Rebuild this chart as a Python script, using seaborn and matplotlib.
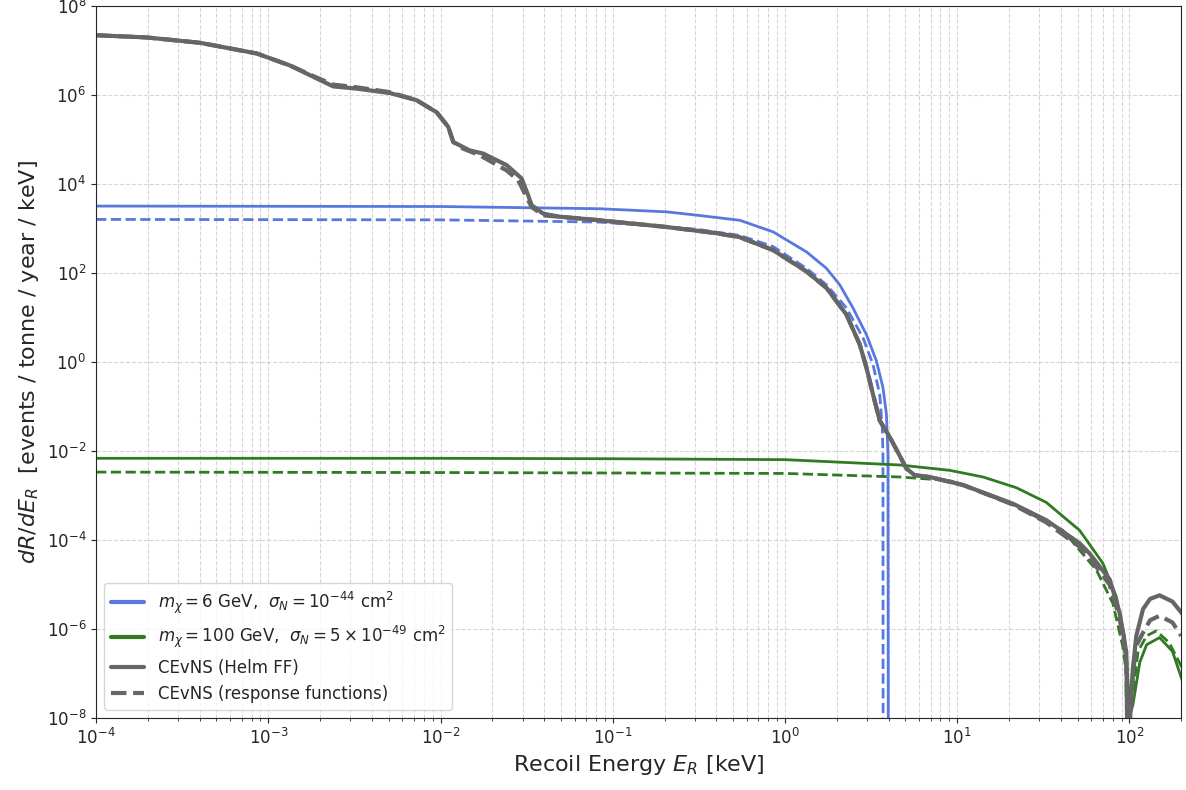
#!/usr/bin/env python3
import numpy as np
import pandas as pd
import seaborn as sns
import matplotlib.pyplot as plt
from matplotlib.ticker import NullLocator

sns.set_style("ticks")
plt.rcParams['font.family'] = ['DejaVu Sans']

# values, stored as log10(E/keV), log10(rate)
helm_logE = [-4.0, -3.706, -3.396, -3.067, -2.874, -2.72, -2.623, -2.487, -2.294, -2.139,
             -2.023, -1.955, -1.926, -1.83, -1.752, -1.616, -1.529, -1.491, -1.471, -1.404,
             -1.307, -1.075, -0.688, -0.398, -0.262, -0.069, 0.125, 0.241, 0.357, 0.434,
             0.473, 0.511, 0.55, 0.608, 0.666, 0.705, 0.753, 0.84, 1.034, 1.324, 1.517,
             1.711, 1.769, 1.885, 1.943, 1.982, 1.99, 2.02, 2.04, 2.079, 2.12, 2.175,
             2.25, 2.31]
helm_logR = [7.35, 7.30, 7.18, 6.94, 6.67, 6.38, 6.20, 6.15, 6.05, 5.89,
             5.62, 5.29, 4.95, 4.76, 4.69, 4.43, 4.13, 3.75, 3.53, 3.34,
             3.27, 3.19, 3.04, 2.90, 2.81, 2.52, 2.04, 1.67, 1.07, 0.40,
             -0.12, -0.72, -1.31, -1.68, -2.10, -2.39, -2.54, -2.58, -2.76, -3.18, -3.55,
             -4.07, -4.30, -4.88, -5.63, -6.52, -9.0, -6.89, -6.15, -5.55, -5.32, -5.24,
             -5.38, -5.67]

resp_logE = [-4.0, -3.706, -3.396, -3.067, -2.874, -2.72, -2.623, -2.487, -2.294, -2.139,
             -2.023, -1.955, -1.926, -1.868, -1.771, -1.616, -1.549, -1.50, -1.471, -1.404,
             -1.307, -1.075, -0.688, -0.398, -0.262, -0.069, 0.125, 0.241, 0.357, 0.434,
             0.473, 0.511, 0.55, 0.608, 0.666, 0.705, 0.753, 0.84, 1.034, 1.324, 1.517,
             1.711, 1.769, 1.885, 1.943, 1.982, 1.99, 2.02, 2.04, 2.079, 2.12, 2.175,
             2.25, 2.30]
resp_logR = [7.35, 7.30, 7.18, 6.94, 6.67, 6.40, 6.24, 6.18, 6.07, 5.89,
             5.62, 5.29, 4.95, 4.80, 4.65, 4.31, 4.09, 3.71, 3.49, 3.30,
             3.27, 3.19, 3.04, 2.90, 2.81, 2.52, 2.04, 1.67, 1.07, 0.40,
             -0.12, -0.72, -1.31, -1.68, -2.10, -2.39, -2.54, -2.58, -2.76, -3.20, -3.60,
             -4.15, -4.40, -5.00, -5.75, -6.65, -9.0, -7.0, -6.37, -6.08, -5.80, -5.70,
             -5.85, -6.15]

dm6_helm_logE = [-4.0, -2.0, -1.075, -0.688, -0.5, -0.262, -0.069, 0.125, 0.241, 0.318,
                 0.395, 0.473, 0.531, 0.569, 0.589, 0.598, 0.600]
dm6_helm_logR = [3.51, 3.50, 3.45, 3.38, 3.30, 3.19, 2.93, 2.48, 2.11, 1.74,
                 1.22, 0.62, 0.03, -0.57, -1.16, -2.06, -9.0]

dm6_resp_logE = [-4.0, -2.0, -1.075, -0.516, -0.262, -0.069, 0.125, 0.241, 0.357, 0.453,
                 0.511, 0.55, 0.565, 0.569, 0.570]
dm6_resp_logR = [3.21, 3.20, 3.15, 2.99, 2.85, 2.60, 2.11, 1.74, 1.22, 0.55,
                 -0.05, -0.72, -1.46, -2.06, -9.0]

dm100_helm_logE = [-4.0, -2.0, -1.0, 0.0, 0.666, 0.956, 1.15, 1.343, 1.517, 1.711,
                   1.846, 1.924, 1.972, 2.005, 2.02, 2.06, 2.10, 2.175, 2.25, 2.31]
dm100_helm_logR = [-2.16, -2.16, -2.17, -2.19, -2.31, -2.43, -2.58, -2.82, -3.15, -3.78,
                   -4.52, -5.27, -6.17, -7.9, -7.71, -6.75, -6.35, -6.19, -6.50, -7.19]

dm100_resp_logE = [-4.0, -2.0, -1.0, 0.0, 0.666, 0.956, 1.03, 1.324, 1.614, 1.808,
                   1.904, 1.962, 2.01, 2.05, 2.10, 2.156, 2.23, 2.31]
dm100_resp_logR = [-2.47, -2.48, -2.49, -2.50, -2.58, -2.66, -2.76, -3.21, -3.78, -4.67,
                   -5.42, -6.40, -7.8, -6.50, -6.15, -6.04, -6.30, -6.90]

blue, green, gray = "#5878e0", "#2f7a22", "#666666"
series = [
    (dm6_helm_logE, dm6_helm_logR, blue, "-", 2.0,
     r"$m_\chi = 6$ GeV,  $\sigma_N = 10^{-44}$ cm$^2$"),
    (dm6_resp_logE, dm6_resp_logR, blue, "--", 2.0, None),
    (dm100_helm_logE, dm100_helm_logR, green, "-", 2.0,
     r"$m_\chi = 100$ GeV,  $\sigma_N = 5\times10^{-49}$ cm$^2$"),
    (dm100_resp_logE, dm100_resp_logR, green, "--", 2.0, None),
    (helm_logE, helm_logR, gray, "-", 3.0, "CEvNS (Helm FF)"),
    (resp_logE, resp_logR, gray, "--", 3.0, "CEvNS (response functions)"),
]

fig, ax = plt.subplots(figsize=(11.86, 7.9), dpi=100)
fig.subplots_adjust(left=0.081, right=0.996, bottom=0.091, top=0.992)
ax.set(xscale="log", yscale="log")

for lE, lR, col, ls, lw, lab in series:
    df = pd.DataFrame({"E": 10.0 ** np.array(lE), "R": 10.0 ** np.array(lR)})
    sns.lineplot(data=df, x="E", y="R", ax=ax, color=col, linestyle=ls,
                 linewidth=lw, sort=False, estimator=None, label=lab,
                 legend=lab is not None)

ax.set_xlim(1e-4, 200)
ax.set_ylim(1e-8, 1e8)
ax.set_yticks([10.0 ** k for k in range(-8, 9, 2)])
ax.yaxis.set_minor_locator(NullLocator())
ax.tick_params(labelsize=12)

ax.grid(which="major", ls="--", color="#cccccc", lw=0.8, alpha=0.8)
ax.xaxis.grid(which="minor", ls="--", color="#cccccc", lw=0.8, alpha=0.8)

ax.set_xlabel(r"Recoil Energy $E_R$ [keV]", fontsize=16)
ax.set_ylabel(r"$dR/dE_R$  [events / tonne / year / keV]", fontsize=16)

handles, labels = ax.get_legend_handles_labels()
leg = ax.legend(handles, labels, loc="lower left", fontsize=12, frameon=True)
for h in leg.get_lines():
    h.set_linewidth(3.0)

fig.savefig("out.png", dpi=100)
plt.close(fig)
